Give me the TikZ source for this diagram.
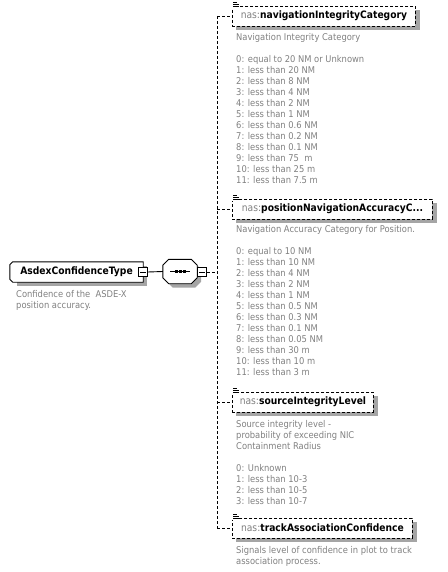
\documentclass[tikz,border=0pt]{standalone}
\usepackage{fontspec}
\setmainfont{DejaVu Sans Condensed}
\usetikzlibrary{backgrounds}
\definecolor{txtgray}{RGB}{128,128,128}
\definecolor{shgray}{RGB}{165,165,165}
\tikzset{
  dsh/.style={line width=0.9pt, dash pattern=on 3pt off 2pt},
  elem/.style={draw, dsh, fill=white, minimum height=20pt, inner sep=0pt, anchor=west,
    font=\fontsize{10.2}{12}\selectfont},
  desc/.style={anchor=north west, align=left, inner sep=0pt, text=txtgray,
    font=\fontsize{9.3}{11}\selectfont},
  minus/.style={draw, line width=0.9pt, fill=white, minimum width=9pt, minimum height=9pt, inner sep=0pt},
  icon/.style={line width=0.8pt},
  outl/.style={draw, line width=0.9pt, fill=white},
}
\newcommand{\nsp}{{\color{txtgray}nas:}}
\begin{document}
\begin{tikzpicture}[x=1pt,y=-1pt]
\useasboundingbox (0,0) rectangle (447,572);
% main type
\node[minimum width=133pt, minimum height=20pt, inner sep=0pt] (main) at (76.5,272) {};
\fill[shgray] ([shift={(7pt,-4pt)}]main.north west) rectangle ([shift={(4pt,-4pt)}]main.south east);
\path[outl] ([xshift=3pt]main.north west) -- (main.north east) -- (main.south east)
    -- ([xshift=3pt]main.south west) -- ([yshift=3pt]main.south west)
    -- ([yshift=-3pt]main.north west) -- cycle;
\node[font=\fontsize{10.2}{12}\selectfont\bfseries, inner sep=0pt] (maintext) at (main.center) {AsdexConfidenceType};
\node[minus] (mm) at (143,272) {};
\draw[line width=0.9pt] ([xshift=2pt]mm.west) -- ([xshift=-2pt]mm.east);
\node[desc] (mdesc) at (16,290.4) {Confidence of the \ ASDE-X\\position accuracy.};
% sequence
\node[minimum width=34pt, minimum height=24pt, inner sep=0pt] (seq) at (180,271.5) {};
\fill[shgray] ([shift={(10pt,-4pt)}]seq.north west) -- ([shift={(-2pt,-4pt)}]seq.north east) -- ([shift={(4pt,-10pt)}]seq.north east)
    -- ([shift={(4pt,2pt)}]seq.south east) -- ([shift={(-2pt,-4pt)}]seq.south east) -- ([shift={(10pt,-4pt)}]seq.south west)
    -- ([shift={(4pt,2pt)}]seq.south west) -- ([shift={(4pt,-10pt)}]seq.north west) -- cycle;
\path[outl] ([xshift=6pt]seq.north west) -- ([xshift=-6pt]seq.north east) -- ([yshift=-6pt]seq.north east)
    -- ([yshift=6pt]seq.south east) -- ([xshift=-6pt]seq.south east) -- ([xshift=6pt]seq.south west)
    -- ([yshift=6pt]seq.south west) -- ([yshift=-6pt]seq.north west) -- cycle;
\draw[line width=0.9pt] ([xshift=-10pt]seq.center) -- ([xshift=10pt]seq.center);
\foreach \dx in {-4,0,4} \fill ([shift={(\dx pt-1.5pt,-1.5pt)}]seq.center) rectangle ++(3pt,3pt);
\node[minus] (sm) at (202,272) {};
\draw[line width=0.9pt] ([xshift=2pt]sm.west) -- ([xshift=-2pt]sm.east);
\draw[line width=0.9pt] (mm.east) -- (seq.west);
\coordinate (v) at (217,272);
% elements
\node[elem, minimum width=183pt] (b1) at (232,16) {\nsp\textbf{navigationIntegrityCategory}};
\node[elem, minimum width=200pt] (b2) at (232,209) {\nsp\textbf{positionNavigationAccuracyC...}};
\node[elem, minimum width=141pt] (b3) at (232,402) {\nsp\textbf{sourceIntegrityLevel}};
\node[elem, minimum width=180pt] (b4) at (232,528) {\nsp\textbf{trackAssociationConfidence}};
\begin{pgfonlayer}{background}
\foreach \b in {b1,b2,b3,b4}
  \fill[shgray] ([shift={(4pt,-4pt)}]\b.north west) rectangle ([shift={(4pt,-4pt)}]\b.south east);
\end{pgfonlayer}
% connectors
\draw[dsh] (sm.east) -- (v);
\draw[dsh] (v |- b1.west) -- (v |- b4.west);
\foreach \b in {b1,b2,b3,b4} {
  \draw[dsh] (v |- \b.west) -- (\b.west);
  \fill[white] ([shift={(0pt,-2pt)}]\b.north west) rectangle ([shift={(7pt,4pt)}]\b.north west);
  \draw[icon] ([shift={(1pt,3.5pt)}]\b.north west) -- ++(4pt,0pt);
  \draw[icon] ([shift={(1pt,1.5pt)}]\b.north west) -- ++(6pt,0pt);
  \draw[icon] ([shift={(1pt,-0.5pt)}]\b.north west) -- ++(6pt,0pt);
}
% descriptions
\node[desc] (d1) at (236,33.4) {Navigation Integrity Category\\ \strut\\
0: equal to 20 NM or Unknown\\1: less than 20 NM\\2: less than 8 NM\\3: less than 4 NM\\4: less than 2 NM\\
5: less than 1 NM\\6: less than 0.6 NM\\7: less than 0.2 NM\\8: less than 0.1 NM\\9: less than 75 \ m\\
10: less than 25 m\\11: less than 7.5 m};
\node[desc] (d2) at (236,225.4) {Navigation Accuracy Category for Position.\\ \strut\\
0: equal to 10 NM\\1: less than 10 NM\\2: less than 4 NM\\3: less than 2 NM\\4: less than 1 NM\\
5: less than 0.5 NM\\6: less than 0.3 NM\\7: less than 0.1 NM\\8: less than 0.05 NM\\9: less than 30 m\\
10: less than 10 m\\11: less than 3 m};
\node[desc] (d3) at (236,420.4) {Source integrity level -\\probability of exceeding NIC\\Containment Radius\\ \strut\\
0: Unknown\\1: less than 10-3\\2: less than 10-5\\3: less than 10-7};
\node[desc] (d4) at (236,546.4) {Signals level of confidence in plot to track\\association process.};
\end{tikzpicture}
\end{document}
